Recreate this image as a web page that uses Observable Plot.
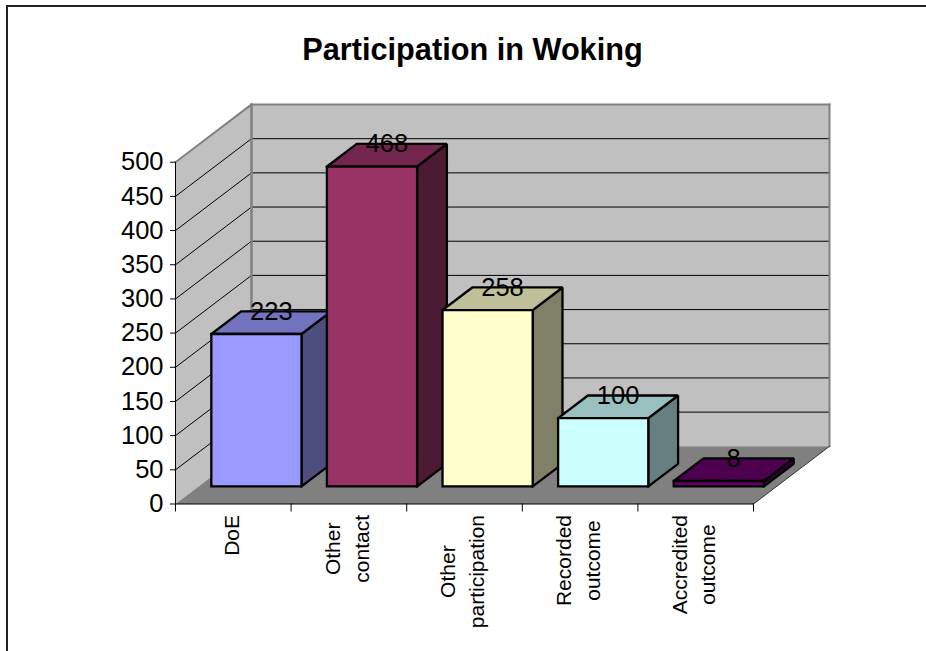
<!DOCTYPE html>
<html>
<head>
<meta charset="utf-8">
<script src="https://cdn.jsdelivr.net/npm/d3@7"></script>
<script src="https://cdn.jsdelivr.net/npm/@observablehq/plot@0.6"></script>
<style>
  html, body { margin: 0; padding: 0; background: #fff; }
  #chart { position: relative; width: 926px; height: 651px; overflow: hidden; }
  #frame { position: absolute; left: 6px; top: 5px; right: 0; bottom: 0; border-left: 2px solid #222; border-top: 2px solid #222; pointer-events: none; }
  #title { position: absolute; left: 0; width: 945px; top: 32px; text-align: center; font: bold 30.7px "Liberation Sans", Arial, sans-serif; color: #000; }
  svg { display: block; }
</style>
</head>
<body>
<div id="chart"><div id="frame"></div><div id="title">Participation in Woking</div></div>
<script>
const categories = ["DoE", "Other\ncontact", "Other\nparticipation", "Recorded\noutcome", "Accredited\noutcome"];
const values = [223, 468, 258, 100, 8];
const frontColors = ["#9999ff", "#993366", "#ffffcc", "#ccffff", "#660066"];
const topColors = ["#7373bf", "#73264d", "#bfbf99", "#99bfbf", "#4d004d"];
const sideColors = ["#4d4d80", "#4d1a33", "#808066", "#668080", "#330033"];
const yTicks = [0, 50, 100, 150, 200, 250, 300, 350, 400, 450, 500];

// Oblique projection, expressed in data units: one unit of depth moves a point
// this far along the category axis and up the value axis.
const depthX = 0.6574, depthY = 84.4;
const yMax = 500, slots = categories.length;
const barGap = 0.11, barDepthFront = 0.304, barDepthBack = 0.696;
const px = (slot, depth) => slot + depth * depthX;
const py = (value, depth) => value + depth * depthY;
const pt = (slot, value, depth) => ({x: px(slot, depth), y: py(value, depth)});
const face = (pts, fill, stroke, strokeWidth) =>
  Plot.line([...pts, pts[0]], {x: "x", y: "y", fill, stroke, strokeWidth, strokeLinejoin: "miter", strokeLinecap: "square"});
const seg = (a, b, stroke, strokeWidth) =>
  Plot.line([a, b], {x: "x", y: "y", stroke, strokeWidth, strokeLinecap: "square"});

const marks = [];
// side wall, back wall, floor
marks.push(face([pt(0,0,0), pt(0,yMax,0), pt(0,yMax,1), pt(0,0,1)], "#c0c0c0", "none", 0));
marks.push(face([pt(0,0,1), pt(0,yMax,1), pt(slots,yMax,1), pt(slots,0,1)], "#c0c0c0", "none", 0));
marks.push(face([pt(0,0,0), pt(slots,0,0), pt(slots,0,1), pt(0,0,1)], "#808080", "none", 0));
// gridlines
for (const t of yTicks.slice(1)) {
  if (t < yMax) marks.push(seg(pt(0,t,1), pt(slots,t,1), "#000", 1));
  if (t < yMax) marks.push(seg(pt(0,t,0), pt(0,t,1), "#000", 1));
}
// wall edges
marks.push(seg(pt(0,0,1), pt(0,yMax,1), "#808080", 2.5));
marks.push(seg(pt(0,yMax,1), pt(slots,yMax,1), "#808080", 2));
marks.push(seg(pt(slots,yMax,1), pt(slots,0,1), "#808080", 2));
marks.push(seg(pt(0,yMax,0), pt(0,yMax,1), "#808080", 2));
marks.push(seg(pt(slots,0,0), pt(slots,0,1), "#333", 1));
// bars, back to front and left to right
values.forEach((v, i) => {
  const l = i + barGap, r = i + 1 - barGap, f = barDepthFront, b = barDepthBack;
  marks.push(face([pt(r,0,f), pt(r,v,f), pt(r,v,b), pt(r,0,b)], sideColors[i], "#000", 2.3));
  marks.push(face([pt(l,v,f), pt(r,v,f), pt(r,v,b), pt(l,v,b)], topColors[i], "#000", 2.3));
  marks.push(face([pt(l,0,f), pt(r,0,f), pt(r,v,f), pt(l,v,f)], frontColors[i], "#000", 2.3));
});
// axis lines and ticks
marks.push(Plot.axisY(yTicks, {x: 0, anchor: "left", tickSize: 5, tickPadding: 7, fontSize: 25.5, stroke: "#000", label: null}));
marks.push(seg(pt(0,0,0), pt(0,yMax,0), "#000", 1));
marks.push(seg(pt(0,0,0), pt(slots,0,0), "#000", 1));
marks.push(Plot.ruleX(d3.range(slots + 1), {x: d => d, y1: 0, y2: -11.7, stroke: "#000", strokeWidth: 1}));
// data labels
marks.push(Plot.text(values, {
  x: (d, i) => px(i + 0.5, 0.5),
  y: d => py(d, barDepthBack),
  text: d => String(d),
  fontSize: 25.5,
  fill: "#000"
}));
// category labels, rotated, block tops aligned just under the axis
const ctx = document.createElement("canvas").getContext("2d");
ctx.font = '21px "Liberation Sans"';
categories.forEach((c, i) => {
  const half = d3.max(c.split("\n"), s => ctx.measureText(s).width) / 2;
  marks.push(Plot.text([c], {
    x: i + 0.5, y: 0, text: d => d,
    rotate: -90, textAnchor: "middle", lineAnchor: "middle", lineHeight: 1.38,
    fontSize: 21, fill: "#000", dx: -4, dy: 11 + half
  }));
});

const plot = Plot.plot({
  width: 926, height: 651,
  margin: 0,
  style: {fontFamily: '"Liberation Sans", Arial, sans-serif', background: "transparent", overflow: "visible"},
  x: {type: "linear", domain: [0, px(slots, 1)], range: [175, 829], axis: null},
  y: {type: "linear", domain: [0, py(yMax, 1)], range: [503.5, 104], axis: null},
  marks
});
document.getElementById("chart").prepend(plot);
</script>
</body>
</html>
